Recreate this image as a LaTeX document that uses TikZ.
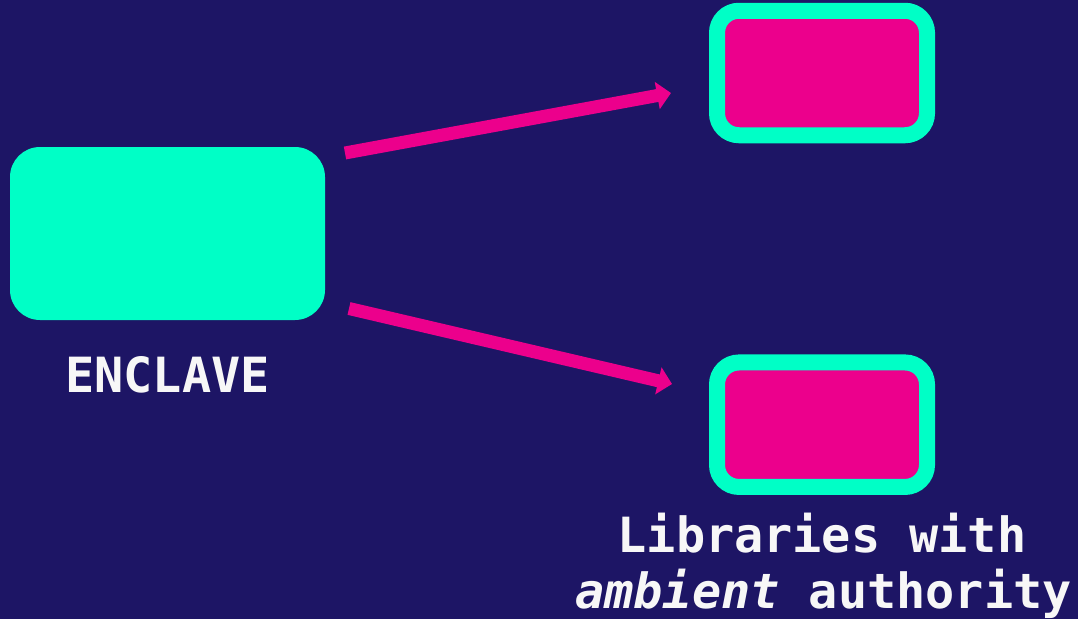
\documentclass[tikz,border=0pt]{standalone}
\usepackage{fontspec}
\setmonofont{DejaVu Sans Mono}
\usetikzlibrary{arrows.meta}
\definecolor{navy}{HTML}{1D1565}
\definecolor{mint}{HTML}{00FFC6}
\definecolor{hotpink}{HTML}{EC008C}
\definecolor{paper}{HTML}{F7F7F7}
\tikzset{
  enclavebox/.style={rectangle, rounded corners=30pt, fill=mint, draw=none,
    minimum width=315pt, minimum height=173pt, inner sep=0pt, outer sep=0pt},
  libbox/.style={rectangle, rounded corners=22pt, fill=hotpink, draw=mint,
    line width=16pt, minimum width=210pt, minimum height=124.5pt,
    inner sep=0pt, outer sep=0pt},
  link/.style={draw=hotpink, line width=13pt,
    -{Triangle[length=14pt,width=27pt]}},
  caption/.style={text=paper, font=\ttfamily\bfseries\fontsize{48.5}{56}\selectfont,
    inner sep=0pt, anchor=base},
}
\begin{document}
\begin{tikzpicture}[x=1pt,y=-1pt]
  \useasboundingbox (0,0) rectangle (1078,619);
  \fill[navy] (0,0) rectangle (1078,619);

  % the enclave and the two libraries it calls into
  \node[enclavebox] (enclave) at (167.5,233.5) {};
  \node[libbox] (libtop) at (822,73) {};
  \node[libbox] (libbot) at (822,424.7) {};

  % connector end points
  \coordinate (s1) at (345,153);
  \coordinate (e1) at (671,93);
  \coordinate (s2) at (349,308.5);
  \coordinate (e2) at (672,384);
  \draw[link] (s1) -- (e1);
  \draw[link] (s2) -- (e2);

  % labels
  \node[caption] (enclavelabel) at (167.5,392) {ENCLAVE};
  \node[caption] (liblabel1) at (822,552) {Libraries with};
  \node[caption] (liblabel2) at (823.5,608) {\itshape ambient\upshape{} authority};
\end{tikzpicture}
\end{document}
